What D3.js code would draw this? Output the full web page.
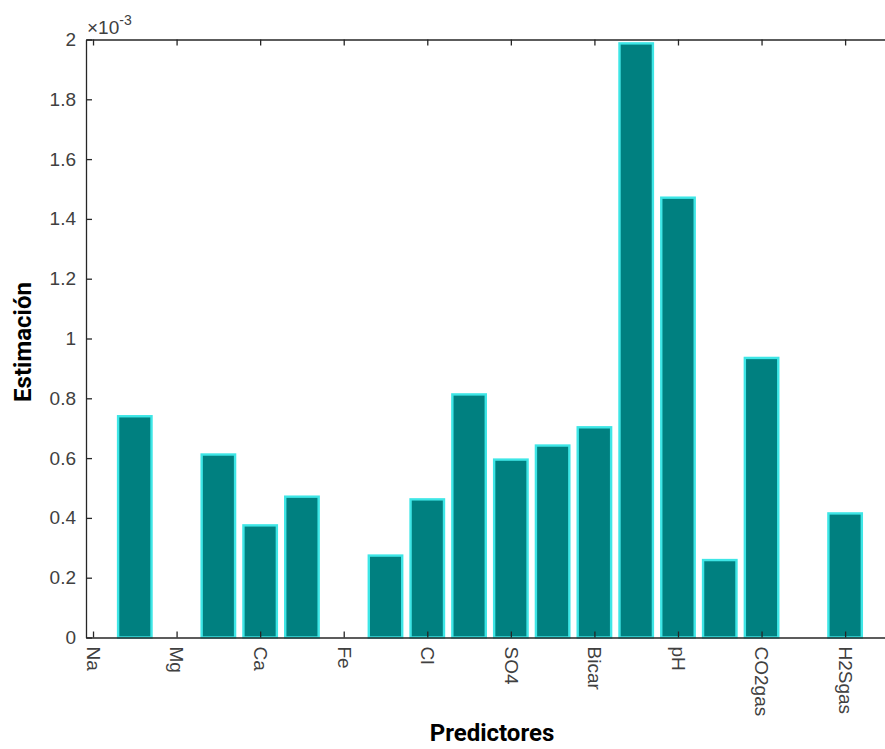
<!DOCTYPE html>
<html>
<head>
<meta charset="utf-8">
<script src="https://cdn.jsdelivr.net/npm/d3@7"></script>
<style>
  html, body { margin: 0; padding: 0; background: #fff; }
  svg { display: block; }
</style>
</head>
<body>
<svg id="chart" width="885" height="749"></svg>
<script>
// ---- Data ----
const positions = [1, 2, 3, 4, 5, 6, 7, 8, 9, 10, 11, 12, 13, 14, 15, 16, 17, 18];
const estimates = [0.740, 0, 0.612, 0.375, 0.471, 0, 0.274, 0.462, 0.813, 0.595, 0.642, 0.703, 1.987, 1.471, 0.259, 0.935, 0, 0.415]; // x 1e-3
const tickPositions = [0, 2, 4, 6, 8, 10, 12, 14, 16, 18];
const tickLabels = ["Na", "Mg", "Ca", "Fe", "Cl", "SO4", "Bicar", "pH", "CO2gas", "H2Sgas"];
const yTicks = [0, 0.2, 0.4, 0.6, 0.8, 1, 1.2, 1.4, 1.6, 1.8, 2];

// ---- Layout ----
const svg = d3.select("#chart");
const plotLeft = 86, plotRight = 894, plotTop = 39.5, plotBottom = 637.5;

const x = d3.scaleLinear().domain([-0.168, 19.17]).range([plotLeft, plotRight]);
const y = d3.scaleLinear().domain([0, 2]).range([plotBottom, plotTop]);
const barW = x(0.8) - x(0);

// ---- Bars ----
svg.append("g").selectAll("rect")
  .data(positions.map((p, i) => ({ p, v: estimates[i] })))
  .join("rect")
  .attr("x", d => x(d.p) - barW / 2)
  .attr("width", barW)
  .attr("y", d => y(d.v))
  .attr("height", d => y(0) - y(d.v))
  .attr("fill", "#008080")
  .attr("stroke", "#3ee6e6")
  .attr("stroke-width", 2.4);

// ---- Axes (box, inward ticks) ----
const axisColor = "#262626";
const tickColor = "#404040";
const tickLen = 6;

// Left axis
const yAxis = d3.axisLeft(y).tickValues(yTicks).tickSizeInner(-tickLen).tickSizeOuter(0)
  .tickPadding(10).tickFormat(d => d3.format("")(+d.toFixed(1)));
const gy = svg.append("g").attr("transform", `translate(${plotLeft},0)`).call(yAxis);
gy.select(".domain").attr("stroke", axisColor).attr("stroke-width", 1.3);
gy.selectAll(".tick line").attr("stroke", axisColor).attr("stroke-width", 1.3);
gy.selectAll(".tick text").attr("fill", tickColor)
  .style("font-family", "'Liberation Sans', Arial, sans-serif").style("font-size", "19px");

// Bottom axis
const xAxis = d3.axisBottom(x).tickValues(tickPositions).tickSizeInner(-tickLen).tickSizeOuter(0)
  .tickFormat((d, i) => tickLabels[i]);
const gx = svg.append("g").attr("transform", `translate(0,${plotBottom})`).call(xAxis);
gx.select(".domain").attr("stroke", axisColor).attr("stroke-width", 1.3);
gx.selectAll(".tick line").attr("stroke", axisColor).attr("stroke-width", 1.3);
gx.selectAll(".tick text")
  .attr("fill", tickColor)
  .style("font-family", "'Liberation Sans', Arial, sans-serif").style("font-size", "19px")
  .attr("text-anchor", "start")
  .attr("transform", "rotate(90)")
  .attr("x", 9).attr("y", 0).attr("dy", "0.35em");

// Top axis
const xTop = d3.axisTop(x).tickValues(tickPositions).tickSizeInner(-tickLen).tickSizeOuter(0).tickFormat("");
const gt = svg.append("g").attr("transform", `translate(0,${plotTop})`).call(xTop);
gt.select(".domain").attr("stroke", axisColor).attr("stroke-width", 1.3);
gt.selectAll(".tick line").attr("stroke", axisColor).attr("stroke-width", 1.3);

// Right axis
const yRight = d3.axisRight(y).tickValues(yTicks).tickSizeInner(-tickLen).tickSizeOuter(0).tickFormat("");
const gr = svg.append("g").attr("transform", `translate(${plotRight},0)`).call(yRight);
gr.select(".domain").attr("stroke", axisColor).attr("stroke-width", 1.3);
gr.selectAll(".tick line").attr("stroke", axisColor).attr("stroke-width", 1.3);

// Exponent label
const expo = svg.append("text")
  .attr("x", 87).attr("y", 34)
  .attr("fill", tickColor)
  .style("font-family", "'Liberation Sans', Arial, sans-serif").style("font-size", "19px");
expo.append("tspan").text("\u00d710");
expo.append("tspan").attr("dy", -9).style("font-size", "14px").text("-3");

// Axis titles
svg.append("text")
  .attr("x", 492).attr("y", 741)
  .attr("text-anchor", "middle")
  .attr("fill", "#000")
  .style("font-family", "Roboto, sans-serif").style("font-weight", "bold").style("font-size", "24px")
  .text("Predictores");

svg.append("text")
  .attr("transform", "translate(31,342) rotate(-90)")
  .attr("text-anchor", "middle")
  .attr("fill", "#000")
  .style("font-family", "Roboto, sans-serif").style("font-weight", "bold").style("font-size", "24px")
  .text("Estimación");
</script>
</body>
</html>
